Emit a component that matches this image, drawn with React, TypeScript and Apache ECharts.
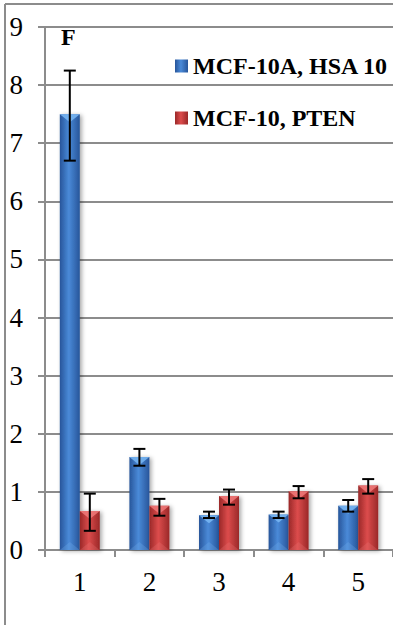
import React, { useEffect, useRef } from "react";
import * as echarts from "echarts";

const categories = ["1", "2", "3", "4", "5"];
const hsaName = "MCF-10A, HSA 10";
const ptenName = "MCF-10, PTEN";
const hsaValues = [7.5, 1.6, 0.6, 0.61, 0.76];
const ptenValues = [0.67, 0.76, 0.93, 1.01, 1.11];
const hsaLow = [6.7, 1.45, 0.55, 0.55, 0.66];
const hsaHigh = [8.25, 1.74, 0.66, 0.66, 0.86];
const ptenLow = [0.33, 0.59, 0.78, 0.89, 0.97];
const ptenHigh = [0.97, 0.88, 1.04, 1.1, 1.22];
const yTicks = [0, 1, 2, 3, 4, 5, 6, 7, 8, 9];
const panelLabel = "F";

const FONT = "Liberation Serif";
const GRAY = "#8c8c8c";
const labelRich = { t: { fontFamily: FONT, fontSize: 27, color: "#000" } };

function grad(edge: string, mid: string) {
  return new echarts.graphic.LinearGradient(0, 0, 1, 0, [
    { offset: 0, color: edge },
    { offset: 0.45, color: mid },
    { offset: 1, color: edge },
  ]);
}

function makeOverlay(values: number[], low: number[], high: number[], offset: number, hi: string) {
  const data = values.map((v, i) => [i, v, low[i], high[i]]);
  return {
    type: "custom",
    coordinateSystem: "cartesian2d",
    z: 5,
    silent: true,
    data,
    encode: { x: 0, y: [1, 2, 3] },
    renderItem: (params: any, api: any) => {
      const idx = api.value(0);
      const base = api.coord([idx, 0]);
      const x = base[0] + offset;
      const top = api.coord([idx, api.value(1)])[1];
      const yl = api.coord([idx, api.value(2)])[1];
      const yh = api.coord([idx, api.value(3)])[1];
      const hw = 10;
      const cap = 6;
      return {
        type: "group",
        children: [
          {
            type: "polygon",
            shape: { points: [[x - hw, top], [x + hw, top], [x, top + 8]] },
            style: { fill: hi, opacity: 0.85 },
          },
          {
            type: "polygon",
            shape: { points: [[x - hw, base[1]], [x + hw, base[1]], [x, base[1] - 8]] },
            style: { fill: hi, opacity: 0.25 },
          },
          { type: "line", shape: { x1: x, y1: yl, x2: x, y2: yh }, style: { stroke: "#000", lineWidth: 2 } },
          { type: "line", shape: { x1: x - cap, y1: yh, x2: x + cap, y2: yh }, style: { stroke: "#000", lineWidth: 2 } },
          { type: "line", shape: { x1: x - cap, y1: yl, x2: x + cap, y2: yl }, style: { stroke: "#000", lineWidth: 2 } },
        ],
      };
    },
  };
}

export default function App() {
  const ref = useRef<HTMLDivElement>(null);
  useEffect(() => {
    const chart = echarts.init(ref.current!, null, { renderer: "svg" });
    const barShadow = { shadowBlur: 4, shadowColor: "rgba(0,0,0,0.35)", shadowOffsetX: 2, shadowOffsetY: 1 };
    const option: any = {
      animation: false,
      backgroundColor: "#fff",
      textStyle: { fontFamily: FONT },
      grid: { left: 45, top: 27, width: 350, height: 523 },
      legend: {
        orient: "vertical",
        left: 170,
        top: 49,
        itemWidth: 13,
        itemHeight: 13,
        itemGap: 28,
        icon: "rect",
        data: [hsaName, ptenName],
        textStyle: { fontFamily: FONT, fontWeight: "bold", fontSize: 24, color: "#000" },
      },
      xAxis: {
        type: "category",
        data: categories,
        axisLine: { lineStyle: { color: GRAY, width: 2 } },
        axisTick: { show: true, length: 7, lineStyle: { color: GRAY, width: 2 } },
        axisLabel: {
          margin: 18,
          fontFamily: FONT,
          fontSize: 27,
          color: "#000",
          formatter: (v: string) => `{t|${v}}`,
          rich: labelRich,
        },
      },
      yAxis: {
        type: "value",
        min: yTicks[0],
        max: yTicks[yTicks.length - 1],
        interval: 1,
        axisLine: { show: true, lineStyle: { color: GRAY, width: 2 } },
        axisTick: { show: true, length: 7, lineStyle: { color: GRAY, width: 2 } },
        axisLabel: {
          margin: 22,
          fontFamily: FONT,
          fontSize: 27,
          color: "#000",
          formatter: (v: number) => `{t|${v}}`,
          rich: labelRich,
        },
        splitLine: { show: true, lineStyle: { color: GRAY, width: 2 } },
      },
      graphic: [
        { type: "line", shape: { x1: 5, y1: 4, x2: 5, y2: 625 }, style: { stroke: GRAY, lineWidth: 2 } },
        { type: "line", shape: { x1: 5, y1: 4, x2: 393, y2: 4 }, style: { stroke: GRAY, lineWidth: 2 } },
        {
          type: "text",
          left: 61,
          top: 25,
          style: { text: panelLabel, fontFamily: FONT, fontWeight: "bold", fontSize: 24, fill: "#000" },
        },
      ],
      series: [
        {
          name: hsaName,
          type: "bar",
          data: hsaValues,
          barWidth: 20,
          barGap: "0%",
          itemStyle: { color: grad("#27559a", "#4a8ad8"), ...barShadow },
        },
        {
          name: ptenName,
          type: "bar",
          data: ptenValues,
          barWidth: 20,
          barGap: "0%",
          itemStyle: { color: grad("#9a2828", "#dc4c4c"), ...barShadow },
        },
        makeOverlay(hsaValues, hsaLow, hsaHigh, -10, "#7ab8f4"),
        makeOverlay(ptenValues, ptenLow, ptenHigh, 10, "#f07a7a"),
      ],
    };
    chart.setOption(option);
    return () => chart.dispose();
  }, []);
  return (
    <div
      ref={ref}
      style={{ position: "absolute", left: 0, top: 0, width: 393, height: 625, background: "#fff" }}
    />
  );
}
